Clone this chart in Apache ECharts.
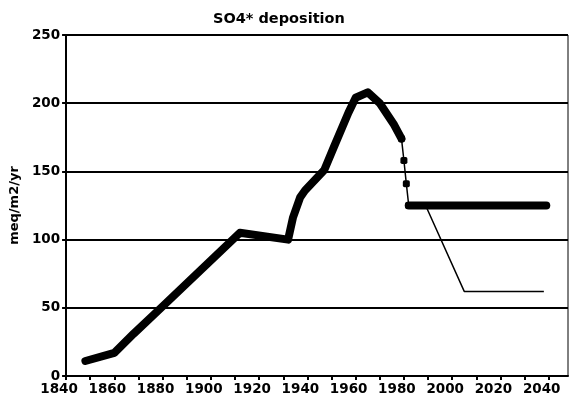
<!DOCTYPE html>
<html>
<head>
<meta charset="utf-8">
<script src="https://cdn.jsdelivr.net/npm/echarts@6/dist/echarts.min.js"></script>
<style>
    html, body { margin: 0; padding: 0; background: #fff; }
</style>
</head>
<body>
<div id="so4Chart" style="width: 569px;height: 404px;"></div>
<script>
// historical deposition (thick line)
const histYears = [1848, 1860, 1868, 1880, 1896, 1912, 1932, 1934, 1937, 1939, 1947, 1951, 1957, 1960, 1965, 1970, 1976, 1979]
const histValues = [11, 17, 31, 51, 78, 105, 100, 116, 131, 136, 151, 168, 193, 204, 208, 200, 184, 174]
// drop after 1979 (markers)
const dropYears = [1979, 1980, 1981, 1982]
const dropValues = [174, 158, 141, 125]
// scenario: constant
const flatYears = [1982, 2039]
const flatValues = [125, 125]
// scenario: reduction
const cutYears = [1982, 1989, 2005, 2038]
const cutValues = [125, 125, 62, 62]

const yTicks = [0, 50, 100, 150, 200, 250]

var font = 'DejaVu Sans'
var option;

function pairs(xs, ys) {
    return xs.map((x, i) => [x, ys[i]])
}

option = {
    animation: false,
    backgroundColor: '#fff',
    title: {
        text: 'SO4* deposition',
        left: 208,
        top: 7,
        textStyle: {
            color: '#000',
            fontFamily: font,
            fontWeight: 'bold',
            fontSize: 14.5
        }
    },
    grid: {
        left: 65,
        right: 1,
        top: 35,
        bottom: 28,
        show: true,
        borderColor: '#000',
        borderWidth: 1
    },
    xAxis: {
        type: 'value',
        min: 1840,
        max: 2048,
        interval: 10,
        axisLine: { lineStyle: { color: '#000', width: 2 } },
        axisTick: { show: true, length: 4, lineStyle: { color: '#000', width: 2 } },
        axisLabel: {
            color: '#000',
            fontFamily: font,
            fontWeight: 'bold',
            fontSize: 13.5,
            margin: 6,
            padding: [0, 14, 0, 0],
            showMaxLabel: false,
            formatter: v => (v % 20 === 0 ? String(v) : '')
        },
        splitLine: { show: false }
    },
    yAxis: {
        type: 'value',
        min: yTicks[0],
        max: yTicks[yTicks.length - 1],
        interval: 50,
        name: 'meq/m2/yr',
        nameLocation: 'middle',
        nameGap: 44,
        nameTextStyle: {
            color: '#000',
            fontFamily: font,
            fontWeight: 'bold',
            fontSize: 13
        },
        axisLine: { show: true, lineStyle: { color: '#000', width: 2 } },
        axisTick: { show: true, length: 4, lineStyle: { color: '#000', width: 2 } },
        axisLabel: {
            color: '#000',
            fontFamily: font,
            fontWeight: 'bold',
            fontSize: 13.5,
            margin: 6
        },
        splitLine: { show: true, lineStyle: { color: '#000', width: 2 } }
    },
    series: [
        {
            name: 'cut',
            type: 'line',
            data: pairs(cutYears, cutValues),
            showSymbol: false,
            symbol: 'none',
            lineStyle: { color: '#000', width: 1.5 },
            z: 2
        },
        {
            name: 'flat',
            type: 'line',
            data: pairs(flatYears, flatValues),
            symbol: 'none',
            lineStyle: { color: '#000', width: 8, cap: 'round' },
            z: 3
        },
        {
            name: 'drop',
            type: 'line',
            data: pairs(dropYears, dropValues),
            symbol: 'roundRect',
            symbolSize: 7,
            itemStyle: { color: '#000' },
            lineStyle: { color: '#000', width: 1.5 },
            z: 3
        },
        {
            name: 'history',
            type: 'line',
            data: pairs(histYears, histValues),
            symbol: 'none',
            lineStyle: { color: '#000', width: 8, cap: 'round', join: 'round' },
            z: 4
        }
    ]
};

var chartDom = document.getElementById('so4Chart');
var myChart = echarts.init(chartDom);
option && myChart.setOption(option);
</script>
</body>
</html>
